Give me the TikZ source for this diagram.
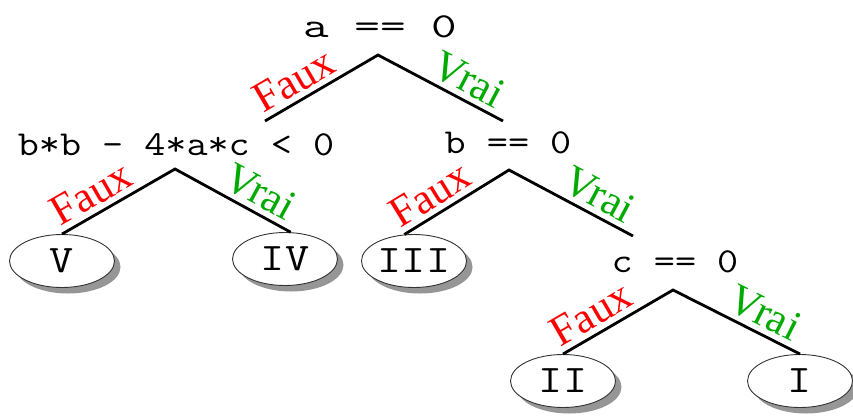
\documentclass[tikz,border=0pt]{standalone}
\usepackage{fontspec}
\setmainfont{Liberation Serif}
\usepackage{graphicx}
\usepackage{tikz}
\usetikzlibrary{shapes.geometric, shadows}
\definecolor{myred}{RGB}{255,0,0}
\definecolor{mygreen}{RGB}{0,170,0}
\definecolor{myshadow}{RGB}{150,150,150}
\newcommand{\widett}[2][1.17]{\scalebox{#1}[1]{#2}}
\tikzset{
  test/.style={anchor=base, inner sep=0pt,
    font=\fontsize{35}{40}\selectfont\ttfamily},
  leaf/.style={ellipse, draw=black!80, fill=white, line width=0.9pt,
    minimum width=105pt, minimum height=53pt, inner sep=1pt,
    font=\fontsize{39}{40}\selectfont\ttfamily,
    drop shadow={shadow xshift=6pt, shadow yshift=-6pt, fill=myshadow, opacity=1}},
  branch/.style={line width=2.8pt, color=black},
  faux/.style={above, sloped, pos=0.35, text=myred, inner sep=5pt,
    font=\fontsize{43}{44}\selectfont},
  vrai/.style={above, sloped, pos=0.65, text=mygreen, inner sep=5pt,
    font=\fontsize{43}{44}\selectfont}
}

\begin{document}
\begin{tikzpicture}[x=1pt, y=-1pt]
  \useasboundingbox (0,0) rectangle (853,416);

  % Tests
  \node[test] (testA) at (380,37) {\widett[1.42]{a == 0}};
  \node[test] (testDelta) at (176,155) {\widett{b*b - 4*a*c < 0}};
  \node[test] (testB) at (508,153) {\widett{b == 0}};
  \node[test] (testC) at (675,272) {\widett{c == 0}};

  % Leaves
  \node[leaf] (leafV) at (62,261) {\widett[1.2]{V}};
  \node[leaf] (leafIV) at (285,259) {\widett[1.2]{IV}};
  \node[leaf] (leafIII) at (414,261) {\widett[1.2]{III}};
  \node[leaf] (leafII) at (563,381) {\widett[1.2]{II}};
  \node[leaf] (leafI) at (800,381) {\widett[1.2]{I}};

  % Branch points
  \coordinate (forkA) at (378,55);
  \coordinate (forkAF) at (265,121);
  \coordinate (forkAV) at (503,121);
  \coordinate (forkDelta) at (175,169);
  \coordinate (forkB) at (509,170);
  \coordinate (forkBV) at (633,236);
  \coordinate (forkC) at (673,290);

  % Branches
  \draw[branch] (forkAF) -- node[faux] {Faux} (forkA) -- node[vrai] {Vrai} (forkAV);
  \draw[branch] (leafV.north) -- node[faux] {Faux} (forkDelta) -- node[vrai] {Vrai} (leafIV.78);
  \draw[branch] (leafIII.110) -- node[faux] {Faux} (forkB) -- node[vrai] {Vrai} (forkBV);
  \draw[branch] (leafII.north) -- node[faux] {Faux} (forkC) -- node[vrai] {Vrai} (leafI.north);
\end{tikzpicture}
\end{document}
